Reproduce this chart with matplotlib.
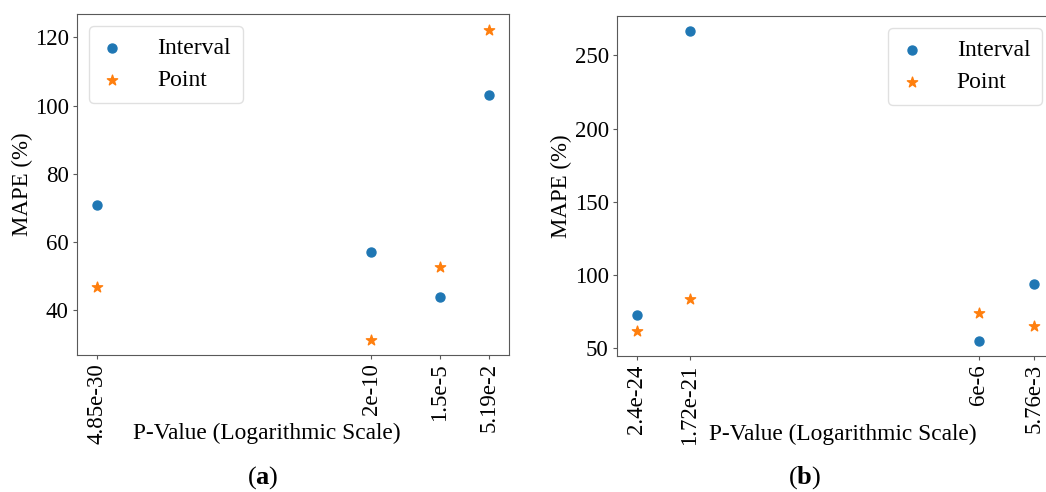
import numpy as np
import matplotlib
matplotlib.use("Agg")
import matplotlib.pyplot as plt

plt.rcParams['font.family'] = ['Liberation Serif', 'DejaVu Serif']
plt.rcParams['mathtext.fontset'] = 'custom'
plt.rcParams['mathtext.rm'] = 'Liberation Serif'
plt.rcParams['mathtext.bf'] = 'Liberation Serif:bold'

# panel (a)
p_a = [4.85e-30, 2e-10, 1.5e-5, 5.19e-2]
p_a_labels = ['4.85e-30', '2e-10', '1.5e-5', '5.19e-2']
interval_a = [70.9, 57.0, 43.8, 103.2]
point_a = [46.9, 31.4, 52.7, 122.3]

# panel (b)
p_b = [2.4e-24, 1.72e-21, 6e-6, 5.76e-3]
p_b_labels = ['2.4e-24', '1.72e-21', '6e-6', '5.76e-3']
interval_b = [72.5, 266.4, 55.3, 94.2]
point_b = [62.1, 83.9, 74.2, 65.5]

fig = plt.figure(figsize=(10.46, 4.92), dpi=100)
W, H = 1046, 492
ax1 = fig.add_axes([77 / W, 1 - 355 / H, 432 / W, 341 / H])
# right panel runs slightly past the image edge, as in the original crop
ax2 = fig.add_axes([617 / W, 1 - 356 / H, 437 / W, 340 / H])


def panel(ax, x, xl, iv, pt, loc, lab_x, ylab_x):
    ax.scatter(x, iv, s=42, color='#1f77b4', marker='o', label='Interval', zorder=3)
    ax.scatter(x, pt, s=60, color='#ff7f0e', marker='*', label='Point', zorder=3)
    ax.set_xscale('log')
    ax.minorticks_off()
    ax.set_xticks(x)
    ax.set_xticklabels(xl, rotation=90)
    ax.tick_params(labelsize=16.5, color='0.35', length=3, pad=3)
    for s in ax.spines.values():
        s.set_color('0.35')
    ax.set_ylabel('MAPE (%)', fontsize=16.5)
    ax.yaxis.set_label_coords(ylab_x, 0.5)
    ax.set_xlabel('P-Value (Logarithmic Scale)', fontsize=16.8)
    ax.xaxis.set_label_coords(lab_x, -0.2)
    leg = ax.legend(loc=loc, fontsize=17, handlelength=1.0, handletextpad=1.4,
                    borderpad=0.5, labelspacing=0.45)
    leg.get_frame().set_edgecolor('0.85')


panel(ax1, p_a, p_a_labels, interval_a, point_a, 'upper left', 0.44, -0.102)
panel(ax2, p_b, p_b_labels, interval_b, point_b, 'upper right', 0.517, -0.103)
ax1.set_yticks([40, 60, 80, 100, 120])
ax2.set_yticks([50, 100, 150, 200, 250])

fig.text(263 / W, 1 - 478 / H, r'($\mathbf{a}$)', fontsize=19, ha='center', va='center')
fig.text(805 / W, 1 - 478 / H, r'($\mathbf{b}$)', fontsize=19, ha='center', va='center')

fig.savefig('out.png', dpi=100)
